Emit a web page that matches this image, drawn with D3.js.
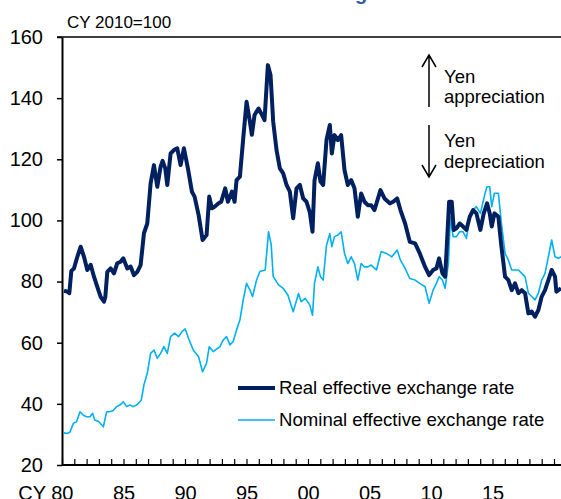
<!DOCTYPE html>
<html>
<head>
<meta charset="utf-8">
<script src="https://cdn.jsdelivr.net/npm/d3@7"></script>
<style>
  body { margin: 0; background: #fff; }
  svg { display: block; font-family: "Liberation Sans", Arial, sans-serif; }
</style>
</head>
<body>
<script>
// effective exchange rates of the yen, CY 2010=100

var realDates = [1980.0,1980.25,1980.4,1980.55,1980.75,1981.0,1981.25,1981.5,1981.75,1982.0,1982.25,1982.5,1982.75,1983.0,1983.1,1983.25,1983.5,1983.75,1984.0,1984.25,1984.45,1984.75,1985.0,1985.25,1985.5,1985.75,1986.0,1986.25,1986.5,1986.75,1987.0,1987.25,1987.4,1987.6,1987.75,1988.0,1988.25,1988.5,1988.75,1989.0,1989.3,1989.6,1989.8,1990.1,1990.4,1990.7,1990.9,1991.1,1991.3,1991.6,1991.8,1992.1,1992.3,1992.6,1992.8,1992.95,1993.2,1993.45,1993.7,1993.95,1994.1,1994.3,1994.6,1994.8,1995.05,1995.3,1995.5,1995.7,1995.95,1996.2,1996.45,1996.7,1996.95,1997.2,1997.45,1997.7,1997.95,1998.2,1998.45,1998.65,1998.8,1999.05,1999.25,1999.45,1999.7,1999.95,2000.1,2000.3,2000.55,2000.8,2001.05,2001.3,2001.55,2001.8,2002.05,2002.3,2002.55,2002.8,2003.05,2003.3,2003.75,2004.05,2004.45,2004.7,2005.0,2005.25,2005.6,2005.95,2006.35,2006.7,2007.1,2007.4,2007.7,2007.95,2008.15,2008.4,2008.6,2008.7,2008.9,2009.1,2009.25,2009.45,2009.7,2009.95,2010.2,2010.45,2010.7,2010.95,2011.25,2011.5,2011.75,2011.95,2012.1,2012.3,2012.6,2012.8,2013.1,2013.35,2013.6,2013.85,2014.1,2014.35,2014.6,2014.85,2015.1,2015.35,2015.6,2015.85,2016.1,2016.35,2016.6,2016.85,2016.95,2017.3];
var realValues = [77,76.7,76.2,83.5,84.3,88.1,91.4,88.1,83.8,85.5,81.6,78.3,75,73.4,75,83.2,84.3,82.7,86,86.5,87.6,84.3,84.9,82.1,83.2,85.4,95.8,99,112.1,118.1,111,117.6,119.5,117,111.6,121.9,123,123.6,118.1,123.6,117,109.4,107.8,101.8,93.6,95.2,107.8,104,104.5,105.6,106.1,110.5,106.1,109.4,106.1,113.2,114.3,126.8,138.8,132.3,128,134.5,136.6,135,132.8,150.8,147.6,132.3,123,117,115.4,111.6,109.4,100.7,110.5,111.6,107.2,106.1,102.6,96.3,113,118.7,112.7,111.6,126.3,131.2,121.9,127.9,126.3,127.9,116.5,111.6,113.2,110.5,101.2,108.8,106.1,105,105,103.4,109.9,107.2,105.6,106.1,107.2,103.4,99,93,92.5,89.2,84.8,82.1,83.8,84.3,87.6,82.7,81.6,89.2,106.1,106.1,96.9,97.4,99,98,96.9,101.2,103.4,102.3,96.9,102.3,105.6,102.3,98,102.3,101.2,92.5,81.6,80.5,77.2,79.4,76.2,77.2,76.2,69.6,70.2,68.5,70.7,75.1,77.2,80.5,83.8,81.6,76.7,77.8];

var nominalDates = [1980.0,1980.25,1980.45,1980.7,1980.95,1981.2,1981.45,1981.7,1981.95,1982.15,1982.3,1982.6,1982.95,1983.2,1983.45,1983.7,1983.95,1984.2,1984.45,1984.7,1984.95,1985.2,1985.45,1985.8,1986.0,1986.25,1986.5,1986.75,1987.0,1987.25,1987.5,1987.75,1988.0,1988.3,1988.6,1988.85,1989.1,1989.35,1989.7,1990.1,1990.4,1990.7,1990.9,1991.2,1991.7,1991.95,1992.2,1992.45,1992.7,1992.95,1993.2,1993.45,1993.7,1993.95,1994.15,1994.45,1994.7,1995.1,1995.35,1995.55,1995.7,1996.1,1996.45,1996.8,1997.2,1997.6,1997.8,1998.1,1998.45,1998.65,1998.8,1999.05,1999.25,1999.45,1999.7,1999.95,2000.1,2000.3,2000.55,2000.8,2001.05,2001.3,2001.55,2001.8,2002.05,2002.3,2002.55,2002.8,2003.05,2003.45,2003.8,2004.2,2004.6,2005.0,2005.25,2005.6,2005.95,2006.35,2006.7,2007.1,2007.4,2007.7,2007.95,2008.15,2008.4,2008.6,2008.85,2009.0,2009.2,2009.45,2009.7,2009.95,2010.2,2010.45,2010.7,2010.95,2011.25,2011.6,2011.75,2011.95,2012.1,2012.3,2012.6,2012.8,2013.1,2013.35,2013.6,2013.85,2014.1,2014.35,2014.6,2014.85,2015.1,2015.35,2015.6,2015.85,2016.1,2016.35,2016.6,2016.85,2017.1,2017.3];
var nominalValues = [30.5,30.3,30.8,33.6,34.2,37.4,36.3,35.8,35.8,36.9,34.7,34.2,32.5,37.4,37.4,37.8,39.1,39.6,40.7,39.1,39.6,39.1,39.6,41.2,46.2,50,56.5,57.6,54.9,56.5,58.7,56.5,62,63.1,62,63.6,64.5,61.4,57.6,55.4,50.5,53.3,58.7,57.1,58.7,60.9,62,59.3,60.4,64.2,67.4,74,79.4,77.3,75.1,80.5,83.3,83.8,96.3,92,81.6,78.9,77.8,75.6,70.1,76.1,73.4,74.5,72.3,69,79.4,84.8,81.6,80.5,91.9,95.7,91.4,94.7,95.2,96.3,89.2,85.9,88.1,85.9,80.5,85.9,84.8,84.8,85.4,83.8,89.8,89.2,88.1,90.3,87,84.3,81,80.5,79.4,78.3,72.9,77.2,79.4,81.6,80.5,77.8,86,101.2,94.7,94.7,96.3,96.3,94.1,101.2,103.4,104.5,102.3,108.9,111,111,104.5,108.9,108.9,100.1,89.2,87,83.8,83.8,83.8,82.7,81.6,76.2,75.1,74,76.2,80.5,82.7,88.1,93.6,88.1,87.6,88.1];

var yTicks = [20, 40, 60, 80, 100, 120, 140, 160];
var labelYears = [1980, 1985, 1990, 1995, 2000, 2005, 2010, 2015];
var seriesNames = ["Real effective exchange rate", "Nominal effective exchange rate"];

var width = 561,
    height = 499;

var svg = d3.select("body")
    .append("svg")
    .attr("width", width)
    .attr("height", height);

// title is cut off at the top of the picture, only the tail of the "g" shows
var titleText = "Effective Exchange Rates";
var title = svg.append("text")
    .attr("y", 0)
    .attr("font-size", 20)
    .attr("font-weight", "bold")
    .attr("fill", "#2e5c9e")
    .text(titleText);
var gOffset = title.node().getSubStringLength(0, titleText.indexOf("g"));
title.attr("x", 355 - gOffset);

var y = d3.scaleLinear()
    .domain([20, 160])
    .range([465, 37]);

// data positions
var x = d3.scaleLinear()
    .domain([1980, 2020])
    .range([64, 597]);

// year ticks along the bottom
var xTickScale = d3.scaleLinear()
    .domain([1980, 2020])
    .range([62, 554]);

// top frame line
svg.append("line")
    .attr("x1", 57).attr("x2", width)
    .attr("y1", y(160)).attr("y2", y(160))
    .attr("stroke", "#000")
    .attr("stroke-width", 1.5);

var yAxis = svg.append("g")
    .attr("transform", "translate(62,0)")
    .call(d3.axisLeft(y).tickValues(yTicks).tickSize(5).tickSizeOuter(0).tickPadding(14));
yAxis.select(".domain").attr("stroke-width", 2);
yAxis.selectAll(".tick line").attr("stroke-width", 1.5);
yAxis.selectAll("text")
    .attr("font-size", 20)
    .attr("font-family", "Liberation Sans, Arial, sans-serif")
    .attr("fill", "#000");

var years = d3.range(1980, 2021);
var xMinor = svg.append("g")
    .attr("transform", "translate(0,465)")
    .call(d3.axisBottom(xTickScale).tickValues(years).tickSize(-6).tickSizeOuter(0).tickFormat(""));
xMinor.select(".domain").attr("d", "M62,0H" + width).attr("stroke-width", 2);
xMinor.selectAll(".tick line").attr("stroke-width", 1.2);

var xLabels = svg.append("g")
    .attr("transform", "translate(0,465)")
    .call(d3.axisBottom(xTickScale).tickValues(labelYears).tickSize(0).tickPadding(21)
      .tickFormat(function(d){ return d3.format("02")(d % 100); }));
xLabels.select(".domain").remove();
xLabels.selectAll("text")
    .attr("font-size", 20)
    .attr("font-family", "Liberation Sans, Arial, sans-serif")
    .attr("fill", "#000");
xLabels.select(".tick text")
    .attr("text-anchor", "end")
    .attr("x", 11)
    .text("CY 80");

svg.append("text")
    .attr("x", 67)
    .attr("y", 28)
    .attr("font-size", 17)
    .text("CY 2010=100");

var line = d3.line()
    .x(function(d){ return x(d[0]); })
    .y(function(d){ return y(d[1]); });

var nominal = d3.zip(nominalDates, nominalValues);
var real = d3.zip(realDates, realValues);

svg.append("path")
    .datum(nominal)
    .attr("fill", "none")
    .attr("stroke", "#00b0f0")
    .attr("stroke-width", 1.6)
    .attr("stroke-linejoin", "round")
    .attr("d", line);

svg.append("path")
    .datum(real)
    .attr("fill", "none")
    .attr("stroke", "#002060")
    .attr("stroke-width", 4)
    .attr("stroke-linejoin", "round")
    .attr("d", line);

// legend
var legend = svg.append("g");
var legendRows = [
  {name: seriesNames[0], color: "#002060", w: 4, y: 388},
  {name: seriesNames[1], color: "#00b0f0", w: 1.6, y: 420}
];
legend.selectAll("line")
    .data(legendRows)
    .enter()
    .append("line")
    .attr("x1", 238).attr("x2", 275)
    .attr("y1", function(d){ return d.y; })
    .attr("y2", function(d){ return d.y; })
    .attr("stroke", function(d){ return d.color; })
    .attr("stroke-width", function(d){ return d.w; });
legend.selectAll("text")
    .data(legendRows)
    .enter()
    .append("text")
    .attr("x", 279)
    .attr("y", function(d){ return d.y + 6; })
    .attr("font-size", 18.6)
    .text(function(d){ return d.name; });

// appreciation / depreciation arrows
var arrows = svg.append("g")
    .attr("stroke", "#000")
    .attr("stroke-width", 1.5)
    .attr("fill", "none");
arrows.append("path").attr("d", "M429,107V55M422,67L429,55L436,67");
arrows.append("path").attr("d", "M429,125V177M422,165L429,177L436,165");

var notes = [
  {text: "Yen", y: 83},
  {text: "appreciation", y: 103},
  {text: "Yen", y: 147},
  {text: "depreciation", y: 168}
];
svg.selectAll(".note")
    .data(notes)
    .enter()
    .append("text")
    .attr("class", "note")
    .attr("x", 444)
    .attr("y", function(d){ return d.y; })
    .attr("font-size", 18.5)
    .text(function(d){ return d.text; });
</script>
</body>
</html>
